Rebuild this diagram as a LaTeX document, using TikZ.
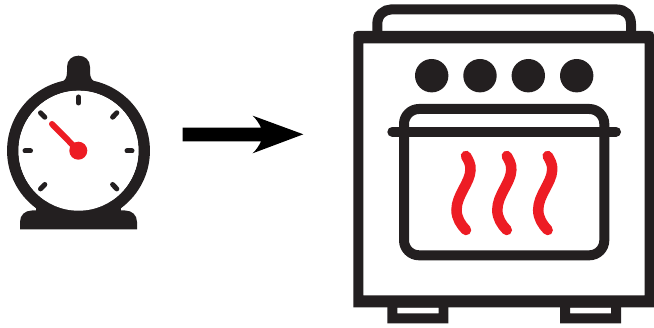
\documentclass[tikz,border=0pt]{standalone}
\definecolor{ink}{HTML}{231F20}
\definecolor{hot}{HTML}{ED1C24}
\tikzset{
  tick/.style={draw=ink,line width=5pt,line cap=round},
  ovenline/.style={draw=ink,line width=10pt},
  flame/.style={draw=hot,line width=10.5pt,line cap=round},
  knob/.style={fill=ink},
}
\begin{document}
\begin{tikzpicture}[x=1pt,y=-1pt]
\useasboundingbox (0,0) rectangle (654,328);
% timer
\fill[ink] (60,83) .. controls (65,81) and (67,78) .. (67,72) -- (67,67)
  .. controls (67,60) and (72,55.7) .. (78.5,55.7)
  .. controls (85,55.7) and (90,60) .. (90,67) -- (90,72)
  .. controls (90,78) and (92,81) .. (97,83) -- (90,95) -- (67,95) -- cycle;
\fill[ink] (20,229.5) -- (20,222) .. controls (20,215) and (25,210.5) .. (32,210.5)
  -- (125,210.5) .. controls (132,210.5) and (137,215) .. (137,222) -- (137,229.5) -- cycle;
\draw[draw=ink,line width=11.5pt,fill=white] (78.5,150.7) circle[radius=65.7];
\fill[ink] (36,200) -- (121,200) -- (121,215) -- (36,215) -- cycle;
\fill[white] (78.5,150.7) circle[radius=60];
\draw[tick] (78.5,97) -- (78.5,103);
\draw[tick] (25,151) -- (30.5,151);
\draw[tick] (127,151) -- (132,151);
\draw[tick] (40.5,112.8) -- (44.8,117.2);
\draw[tick] (116.8,112.8) -- (112.6,117.2);
\draw[tick] (40.5,188.9) -- (44.8,184.5);
\draw[tick] (116.8,188.9) -- (112.6,184.5);
\draw[draw=hot,line width=6pt,line cap=round] (52,124) -- (78.3,150.7);
\fill[hot] (78.3,150.7) circle[radius=9];
% arrow
\fill[black] (182.7,127.7) -- (261,127.7) .. controls (259,123) and (256,119) .. (252.7,115.7)
  -- (303.3,134.3) -- (252.7,153.3) .. controls (256,150) and (259,146) .. (261,141.3)
  -- (182.7,141.3) -- cycle;
% oven handle and feet
\draw[ovenline] (377.3,36) -- (377.3,24) .. controls (377.3,15) and (384,9.5) .. (391,9.5)
  -- (617,9.5) .. controls (625,9.5) and (631,15) .. (631,24) -- (631,36);
\fill[ink,even odd rule] (387.3,300) rectangle (448.3,323.3) (397.3,307.7) rectangle (438.7,313.3);
\fill[ink,even odd rule] (560,300) rectangle (621,323.3) (570,307.7) rectangle (611,313.3);
% oven body
\fill[ink,even odd rule] (353.3,307.5) -- (353.3,35) .. controls (353.3,32.5) and (354.8,31) .. (357.3,31)
  -- (650,31) .. controls (652.5,31) and (654,32.5) .. (654,35) -- (654,307.5) -- cycle
  (363.3,43.3) rectangle (644.7,295.3);
% knobs
\fill[knob] (431.7,75.7) circle[radius=16.7];
\fill[knob] (480,75.7) circle[radius=16.7];
\fill[knob] (528.3,75.7) circle[radius=16.7];
\fill[knob] (576.7,75.7) circle[radius=16.7];
% door
\draw[ovenline,rounded corners=15pt] (404,109) rectangle (604.3,255.3);
\draw[ovenline,line cap=round] (392.3,131.7) -- (616,131.7);
% flames
\foreach \d in {0,40.8,81.7}{
  \draw[flame,xshift=\d pt] (466,156) .. controls (468.5,160.5) and (470.8,164) .. (470.5,170)
    .. controls (470,183) and (456.5,195) .. (456.5,210)
    .. controls (456.5,218) and (461,225) .. (466,230);
}
\end{tikzpicture}
\end{document}
